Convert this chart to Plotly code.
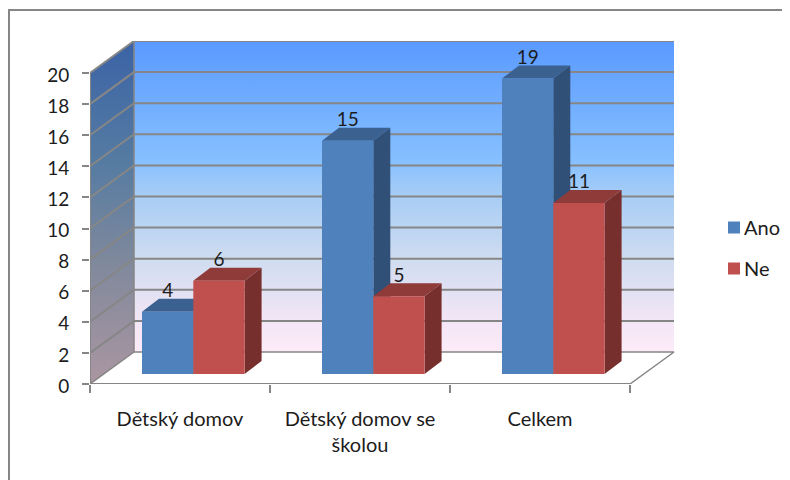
import plotly.graph_objects as go

categories = ["Dětský domov", "Dětský domov se<br>školou", "Celkem"]
series_names = ["Ano", "Ne"]
ano_values = [4, 15, 19]
ne_values = [6, 5, 11]
y_ticks = list(range(0, 21, 2))

FONT = "Lato, 'Open Sans', sans-serif"
TEXT = "#1c1c1c"
GRID = "#868686"

# 3-D projection, in axis units
WALL_DX, WALL_DY = 44 / 180, 32 / 15.55
BAR_DX, BAR_DY = 17 / 180, 13 / 15.55
BAR_BASE = 10 / 15.55
BAR_W = 51.3 / 180
BAR_START = 52 / 180
LABEL_DROP = 3 / 15.55
N = len(categories)

fig = go.Figure()


def poly(xs, ys, color=None, gradient=None, zorder=0):
    kw = dict(fillgradient=gradient) if gradient else dict(fillcolor=color)
    fig.add_trace(go.Scatter(x=xs + xs[:1], y=ys + ys[:1], mode="lines", fill="toself",
                             line=dict(width=0, color="rgba(0,0,0,0)"), showlegend=False,
                             hoverinfo="skip", zorder=zorder, **kw))


top = y_ticks[-1]
# back wall
poly([WALL_DX, N + WALL_DX, N + WALL_DX, WALL_DX], [WALL_DY, WALL_DY, top + WALL_DY, top + WALL_DY],
     gradient=dict(type="vertical", colorscale=[[0, "#fdebf9"], [0.1, "#f3e6f6"], [0.3, "#cfdcf0"], [0.5, "#a8cdf5"],
                                                [0.62, "#86bfff"], [1, "#5a9aff"]]))
# side wall
poly([0, WALL_DX, WALL_DX, 0], [0, WALL_DY, top + WALL_DY, top],
     gradient=dict(type="vertical", colorscale=[[0, "#ab96a2"], [0.35, "#80899c"], [0.65, "#557ba2"], [1, "#3b63a6"]]))

# gridlines on both walls
for t in y_ticks:
    fig.add_trace(go.Scatter(x=[0, WALL_DX, N + WALL_DX] if t else [0, WALL_DX],
                             y=[t, t + WALL_DY, t + WALL_DY] if t else [t, t + WALL_DY],
                             mode="lines", line=dict(color=GRID, width=2 if t else 1.5),
                             showlegend=False, hoverinfo="skip"))
# floor and wall edges
fig.add_trace(go.Scatter(x=[WALL_DX, N + WALL_DX, N, None, WALL_DX, WALL_DX],
                         y=[WALL_DY, WALL_DY, 0, None, WALL_DY, top + WALL_DY],
                         mode="lines", line=dict(color=GRID, width=1.5), showlegend=False, hoverinfo="skip"))

colors = [("#4f81bd", "#3a6190", "#305078"), ("#c0504d", "#8f3b39", "#772f2d")]
for s, (name, values, cols) in enumerate(zip(series_names, [ano_values, ne_values], colors)):
    front, topc, side = cols
    z = 2 * s + 1
    for i, v in enumerate(values):
        x0 = i + BAR_START + s * BAR_W
        x1 = x0 + BAR_W
        yb, yt = BAR_BASE, BAR_BASE + v
        poly([x1, x1 + BAR_DX, x1 + BAR_DX, x1], [yb, yb + BAR_DY, yt + BAR_DY, yt], side, zorder=z)
        poly([x0, x1, x1 + BAR_DX, x0 + BAR_DX], [yt, yt, yt + BAR_DY, yt + BAR_DY], topc, zorder=z)
    fig.add_trace(go.Bar(x=[i + BAR_START + (s + 0.5) * BAR_W for i in range(N)], y=values,
                         base=[BAR_BASE] * N, width=[BAR_W] * N, name=name, legendgroup=name,
                         marker=dict(color=front, line=dict(width=0)), zorder=z + 1))
    fig.add_trace(go.Scatter(x=[i + BAR_START + (s + 0.5) * BAR_W for i in range(N)],
                             y=[BAR_BASE + v + BAR_DY - LABEL_DROP for v in values],
                             text=[str(v) for v in values], mode="text", textposition="top center",
                             textfont=dict(family=FONT, size=19, color=TEXT), cliponaxis=False,
                             showlegend=False, hoverinfo="skip", zorder=6))

PX_W, PX_H = 585, 343
fig.add_shape(type="rect", xref="paper", yref="paper", x0=(9 - 90) / PX_W, x1=1.3,
              y0=-0.4, y1=(384 - 10) / PX_H, line=dict(color="#868686", width=2), fillcolor="rgba(0,0,0,0)",
              layer="below")

fig.update_layout(
    width=782, height=472, autosize=False,
    margin=dict(l=82, r=115, t=33, b=96),
    paper_bgcolor="white", plot_bgcolor="rgba(0,0,0,0)",
    barmode="overlay",
    font=dict(family=FONT, size=20, color=TEXT),
    legend=dict(xref="container", yref="container", x=(704 - 8) / 782, y=1 - (208 - 8) / 472,
                xanchor="left", yanchor="top",
                tracegroupgap=12, bgcolor="rgba(0,0,0,0)", itemwidth=30,
                font=dict(family=FONT, size=20, color=TEXT)),
    xaxis=dict(range=[0, 3.25], tickmode="array", tickvals=[i + 0.5 for i in range(N)], ticktext=categories,
               showgrid=False, zeroline=False, showline=False, ticks="", ticklabelstandoff=21,
               tickfont=dict(size=20),
               minor=dict(tickmode="array", tickvals=list(range(N + 1)), ticks="outside", ticklen=8,
                          tickcolor=GRID, tickwidth=2, showgrid=False),
               fixedrange=True, tickangle=0, automargin=False),
    yaxis=dict(range=[0, 343 / 15.55], tickmode="array", tickvals=y_ticks, ticktext=[str(t) for t in y_ticks],
               showgrid=False, zeroline=False, showline=False, ticks="outside", ticklen=7, ticklabelstandoff=9,
               ticklabelshift=2, tickfont=dict(size=19),
               tickcolor=GRID, tickwidth=2, fixedrange=True, automargin=False),
)
# front axis lines: tick-carrying edges of the floor and the side wall
fig.add_trace(go.Scatter(x=[0, 0, N], y=[top, 0, 0], mode="lines", line=dict(color=GRID, width=2),
                         showlegend=False, hoverinfo="skip", cliponaxis=False, zorder=0))

# the legend key sits closer to its label than plotly's fixed gap allows
shift_keys = """
document.querySelectorAll('.legend .traces').forEach(function (t) {
  t.querySelectorAll('.layers').forEach(function (g) {
    var old = g.getAttribute('transform') || '';
    g.setAttribute('transform', 'translate(10,0) ' + old);
  });
});
"""
fig.write_html("out.html", post_script=shift_keys)
